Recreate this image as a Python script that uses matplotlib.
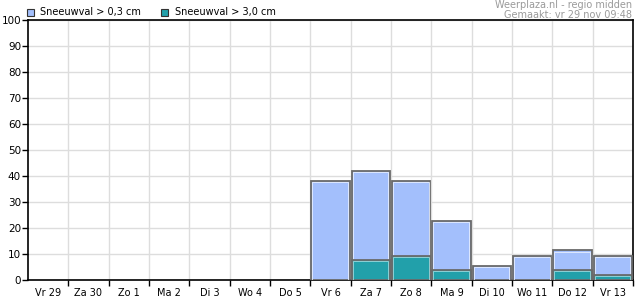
import matplotlib
matplotlib.use("Agg")
import matplotlib.pyplot as plt
import numpy as np

categories = ["Vr 29", "Za 30", "Zo 1", "Ma 2", "Di 3", "Wo 4", "Do 5",
              "Vr 6", "Za 7", "Zo 8", "Ma 9", "Di 10", "Wo 11", "Do 12", "Vr 13"]
snow_03 = [0, 0, 0, 0, 0, 0, 0, 38.2, 42.0, 38.2, 22.8, 5.5, 9.3, 11.4, 9.3]
snow_30 = [0, 0, 0, 0, 0, 0, 0, 0, 7.7, 9.3, 3.7, 0, 0, 3.7, 1.8]
legend_labels = ["Sneeuwval > 0,3 cm", "Sneeuwval > 3,0 cm"]
yticks = list(range(0, 101, 10))

light = "#a3bffc"
dark = "#22a0aa"
edge = "#6a6a6a"

plt.rcParams['font.family'] = ['DejaVu Sans']
fig = plt.figure(figsize=(6.35, 3.0), dpi=100)
ax = fig.add_axes([28/635, 20/300, 605/635, 260/300])

x = np.arange(len(categories))
w = 0.95
for xi, v in zip(x, snow_03):
    if v > 0:
        ax.bar(xi, v, width=w, color=light, edgecolor=edge, linewidth=1.3, zorder=3)
        ax.bar(xi - 0.01, v - 0.5, width=w - 0.07, color='none', edgecolor='#e6eeff',
               linewidth=0.6, zorder=3.1)
for xi, v in zip(x, snow_30):
    if v > 0:
        ax.bar(xi, v, width=w, color=dark, edgecolor=edge, linewidth=1.3, zorder=4)
        ax.bar(xi - 0.01, v - 0.4, width=w - 0.07, color='none', edgecolor='#9fd8dc',
               linewidth=0.6, zorder=4.1)

ax.set_xlim(-0.5, len(categories) - 0.5)
ax.set_ylim(0, 100)
ax.set_yticks(yticks)
ax.set_yticklabels([str(t) for t in yticks], fontsize=7.5)
ax.set_xticks(x)
ax.set_xticklabels(categories, fontsize=7)
ax.tick_params(axis='x', length=0, pad=6)
ax.set_xticks(np.arange(len(categories)) + 0.5, minor=True)
ax.tick_params(axis='x', which='minor', length=4, width=1, color='black')
ax.tick_params(axis='y', length=4, width=1, pad=1)
ax.grid(True, which='minor', axis='x', color='#dddddd', linewidth=1, zorder=0)
ax.grid(True, which='major', axis='y', color='#dddddd', linewidth=1, zorder=0)
for s in ax.spines.values():
    s.set_linewidth(1.2)
    s.set_color('black')

# legend
fig.patches.append(plt.Rectangle((27/635, 1 - 16/300), 7/635, 7/300, transform=fig.transFigure,
                                 facecolor=light, edgecolor='#333333', linewidth=0.8))
fig.text(40/635, 1 - 12.5/300, legend_labels[0], fontsize=7, va='center', ha='left')
fig.patches.append(plt.Rectangle((161/635, 1 - 16/300), 7/635, 7/300, transform=fig.transFigure,
                                 facecolor=dark, edgecolor='#333333', linewidth=0.8))
fig.text(175/635, 1 - 12.5/300, legend_labels[1], fontsize=7, va='center', ha='left')

fig.text(632/635, 1 - 4.5/300, "Weerplaza.nl - regio midden", fontsize=7, color='#9a9a9a',
         ha='right', va='center')
fig.text(632/635, 1 - 14.5/300, "Gemaakt: vr 29 nov 09:48", fontsize=7, color='#9a9a9a',
         ha='right', va='center')

fig.savefig("out.png", dpi=100)
